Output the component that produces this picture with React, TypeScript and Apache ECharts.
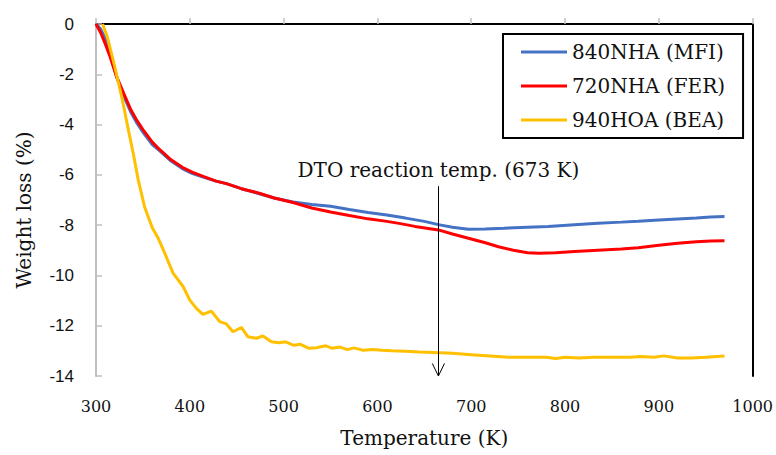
import React, { useEffect, useRef } from "react";
import * as echarts from "echarts";

const seriesNames = ["840NHA (MFI)", "720NHA (FER)", "940HOA (BEA)"];

const mfiTemp = [300, 305, 310, 315, 322, 330, 337, 343, 350, 360, 368, 380, 392, 403, 415, 428, 439, 455, 474, 490, 510, 530, 550, 570, 590, 610, 630, 650, 665, 680, 697, 715, 735, 760, 782, 810, 835, 860, 878, 900, 920, 940, 955, 970];
const mfiLoss = [0, -0.2, -0.6, -1.2, -2.1, -2.9, -3.5, -3.9, -4.3, -4.8, -5.05, -5.45, -5.75, -5.95, -6.1, -6.25, -6.35, -6.55, -6.75, -6.92, -7.08, -7.18, -7.25, -7.38, -7.5, -7.6, -7.72, -7.85, -7.98, -8.08, -8.16, -8.15, -8.12, -8.08, -8.05, -7.98, -7.92, -7.88, -7.85, -7.8, -7.76, -7.72, -7.68, -7.66];

const ferTemp = [300, 305, 310, 315, 322, 330, 337, 343, 350, 360, 368, 380, 392, 403, 415, 428, 439, 455, 474, 490, 510, 530, 550, 570, 590, 610, 623, 640, 665, 680, 697, 715, 729, 745, 760, 772, 790, 810, 835, 860, 878, 900, 920, 940, 955, 970];
const ferLoss = [0, -0.35, -0.8, -1.3, -2.1, -2.8, -3.4, -3.8, -4.2, -4.7, -5.0, -5.4, -5.7, -5.9, -6.07, -6.25, -6.35, -6.55, -6.73, -6.92, -7.1, -7.32, -7.48, -7.62, -7.75, -7.85, -7.93, -8.05, -8.19, -8.35, -8.52, -8.7, -8.86, -9.0, -9.1, -9.12, -9.1, -9.05, -9.0, -8.95, -8.9, -8.8, -8.72, -8.66, -8.63, -8.62];

const beaTemp = [307, 312, 320, 328, 335, 340, 345, 352, 360, 366, 372, 382, 393, 400, 407, 414, 423, 432, 439, 446, 455, 462, 471, 478, 487, 495, 502, 511, 518, 527, 535, 545, 552, 560, 568, 575, 585, 595, 605, 615, 630, 645, 660, 680, 700, 720, 740, 760, 780, 790, 800, 815, 830, 850, 870, 880, 895, 905, 920, 935, 950, 970];
const beaLoss = [0, -0.5, -1.7, -3.0, -4.3, -5.2, -6.2, -7.3, -8.1, -8.5, -9.0, -9.9, -10.45, -10.98, -11.31, -11.55, -11.42, -11.84, -11.93, -12.24, -12.07, -12.44, -12.5, -12.41, -12.64, -12.68, -12.64, -12.78, -12.74, -12.9, -12.88, -12.8, -12.9, -12.85, -12.95, -12.88, -12.98, -12.95, -12.98, -13.0, -13.02, -13.05, -13.07, -13.1, -13.15, -13.2, -13.25, -13.25, -13.25, -13.3, -13.25, -13.28, -13.25, -13.25, -13.25, -13.22, -13.25, -13.2, -13.28, -13.28, -13.25, -13.2];

const arrowTemp = 665;
const arrowTopLoss = -6.45;
const arrowBottomLoss = -14;
const arrowLabel = "DTO reaction temp. (673 K)";

const xMin = 300, xMax = 1000, xStep = 100;
const yMin = -14, yMax = 0, yStep = 2;

const colors = ["#4472C4", "#FF0000", "#FFC000"];
const SERIF = "'DejaVu Serif', serif";
const SANS = "'Liberation Sans', sans-serif";

const zip = (a: number[], b: number[]) => a.map((v, i) => [v, b[i]]);

export default function App() {
  const ref = useRef<HTMLDivElement>(null);
  useEffect(() => {
    if (!ref.current) return;
    const chart = echarts.init(ref.current, null, { renderer: "svg" });
    const grey = "#BFBFBF";
    chart.setOption({
      animation: false,
      backgroundColor: "#fff",
      grid: { left: 96, right: 21, top: 24, bottom: 79, containLabel: false },
      legend: {
        data: seriesNames,
        orient: "vertical",
        left: 503,
        top: 34,
        padding: [8, 18, 8, 18],
        itemGap: 14,
        itemWidth: 46,
        itemHeight: 3,
        icon: "rect",
        borderColor: "#000",
        borderWidth: 2,
        backgroundColor: "#fff",
        textStyle: { fontFamily: SERIF, fontSize: 20, color: "#111", lineHeight: 20 },
      },
      xAxis: [
        {
          type: "value",
          min: xMin,
          max: xMax,
          interval: xStep,
          name: "Temperature (K)",
          nameLocation: "middle",
          nameGap: 52,
          nameTextStyle: { fontFamily: SERIF, fontSize: 20, color: "#111" },
          axisLine: { show: true, lineStyle: { color: grey, width: 2 } },
          axisTick: { show: true, inside: true, length: 6, lineStyle: { color: grey, width: 1.5 } },
          axisLabel: { fontFamily: SERIF, fontSize: 16, color: "#111", margin: 22, formatter: (v: number) => String(v) },
          splitLine: { show: false },
        },
        {
          type: "value",
          position: "top",
          min: xMin,
          max: xMax,
          axisLine: { show: true, onZero: false, lineStyle: { color: "#000", width: 2 } },
          axisTick: { show: false },
          axisLabel: { show: false },
          splitLine: { show: false },
        },
      ],
      yAxis: [
        {
          type: "value",
          min: yMin,
          max: yMax,
          interval: yStep,
          name: "Weight loss (%)",
          nameLocation: "middle",
          nameGap: 62,
          nameTextStyle: { fontFamily: SERIF, fontSize: 20, color: "#111", padding: [0, 20, 0, 0] },
          axisLine: { show: true, onZero: false, lineStyle: { color: grey, width: 2 } },
          axisTick: { show: true, inside: true, length: 6, lineStyle: { color: grey, width: 1.5 } },
          axisLabel: { fontFamily: SANS, fontSize: 17, color: "#111", margin: 22 },
          splitLine: { show: false },
        },
        {
          type: "value",
          position: "right",
          min: yMin,
          max: yMax,
          axisLine: { show: true, onZero: false, lineStyle: { color: "#000", width: 2 } },
          axisTick: { show: false },
          axisLabel: { show: false },
          splitLine: { show: false },
        },
      ],
      series: [
        {
          name: seriesNames[0],
          type: "line",
          data: zip(mfiTemp, mfiLoss),
          showSymbol: false,
          symbol: "none",
          lineStyle: { color: colors[0], width: 3 },
          itemStyle: { color: colors[0] },
          markLine: {
            silent: true,
            symbol: ["none", "none"],
            lineStyle: { color: "#000", width: 1, type: "solid" },
            emphasis: { disabled: true },
            data: [
              [
                {
                  coord: [arrowTemp, arrowTopLoss],
                  label: {
                    show: true,
                    position: "start",
                    formatter: arrowLabel,
                    fontFamily: SERIF,
                    fontSize: 20,
                    color: "#111",
                    distance: 6,
                  },
                },
                { coord: [arrowTemp, arrowBottomLoss] },
              ],
              [
                { coord: [arrowTemp - 6.5, arrowBottomLoss + 0.5], label: { show: false } },
                { coord: [arrowTemp, arrowBottomLoss] },
              ],
              [
                { coord: [arrowTemp + 6.5, arrowBottomLoss + 0.5], label: { show: false } },
                { coord: [arrowTemp, arrowBottomLoss] },
              ],
            ],
          },
        },
        {
          name: seriesNames[1],
          type: "line",
          data: zip(ferTemp, ferLoss),
          showSymbol: false,
          symbol: "none",
          lineStyle: { color: colors[1], width: 3 },
          itemStyle: { color: colors[1] },
        },
        {
          name: seriesNames[2],
          type: "line",
          data: zip(beaTemp, beaLoss),
          showSymbol: false,
          symbol: "none",
          lineStyle: { color: colors[2], width: 3 },
          itemStyle: { color: colors[2] },
        },
      ],
    });
    return () => chart.dispose();
  }, []);
  return <div ref={ref} style={{ width: 776, height: 455, position: "fixed", left: 0, top: 0 }} />;
}
